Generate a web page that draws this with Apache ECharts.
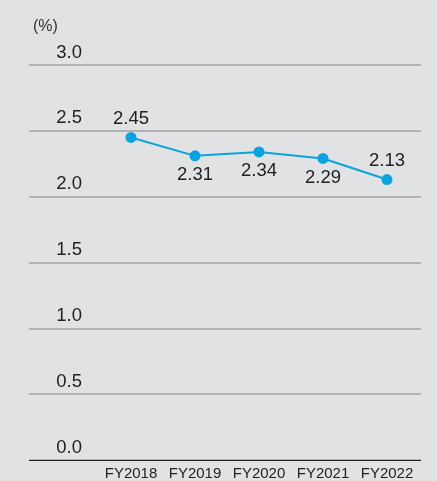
<!DOCTYPE html>
<html><head><meta charset="utf-8">
<script src="https://cdn.jsdelivr.net/npm/echarts@6/dist/echarts.min.js"></script>
<style>html,body{margin:0;padding:0;background:#e1e2e4;}#c{width:437px;height:481px;}</style>
</head><body><div id="c"></div>
<script>
const categories = ['FY2018','FY2019','FY2020','FY2021','FY2022'];
const values = [2.45, 2.31, 2.34, 2.29, 2.13];
const labelPositions = ['top','bottom','bottom','bottom','top'];
const yTicks = [0, 0.5, 1.0, 1.5, 2.0, 2.5, 3.0];
const unitLabel = '(%)';

const font = 'Liberation Sans, Arial, Helvetica, sans-serif';
const chart = echarts.init(document.getElementById('c'));
chart.setOption({
  backgroundColor: '#e1e2e4',
  animation: false,
  textStyle: {fontFamily: font},
  title: {text: unitLabel, left: 28, top: 14, textStyle: {fontSize: 16, fontWeight: 'normal', color: '#333', fontFamily: font}},
  grid: [
    {left: 29, right: 16, top: 65, bottom: 21},
    {left: 99, right: 18, top: 65, bottom: 21}
  ],
  xAxis: [
    {gridIndex: 0, type: 'value', min: 0, max: 1, show: false},
    {gridIndex: 1, type: 'category', data: categories, boundaryGap: true,
     axisLine: {show: false}, axisTick: {show: false},
     axisLabel: {color: '#222', fontSize: 15, margin: 6, interval: 0, fontFamily: font}}
  ],
  yAxis: [
    {gridIndex: 0, type: 'value', min: 0, max: 3, interval: 0.5,
     axisLine: {show: false}, axisTick: {show: false},
     axisLabel: {color: '#222', fontSize: 18.5, align: 'right', verticalAlign: 'bottom', margin: -53,
       padding: [0, 0, 3, 0], fontFamily: font,
       formatter: v => yTicks.includes(v) ? v.toFixed(1) : ''},
     splitLine: {show: true, lineStyle: {color: '#a3a3a3', width: 1.5}}},
    {gridIndex: 1, type: 'value', min: 0, max: 3, interval: 0.5, show: false}
  ],
  series: [
    {type: 'line', xAxisIndex: 0, yAxisIndex: 0, data: [], silent: true,
     markLine: {silent: true, symbol: 'none', label: {show: false},
       lineStyle: {color: '#222', width: 1.2, type: 'solid'}, data: [{yAxis: 0}]}},
    {type: 'line', xAxisIndex: 1, yAxisIndex: 1,
     data: values.map((v, i) => ({value: v, label: {position: labelPositions[i]}})),
     symbol: 'circle', symbolSize: 11,
     lineStyle: {color: '#0aa3e0', width: 2},
     itemStyle: {color: '#0aa3e0'},
     label: {show: true, fontSize: 18.5, color: '#222', distance: 4, fontFamily: font,
       formatter: p => p.value.toFixed(2)}}
  ]
});
</script></body></html>
